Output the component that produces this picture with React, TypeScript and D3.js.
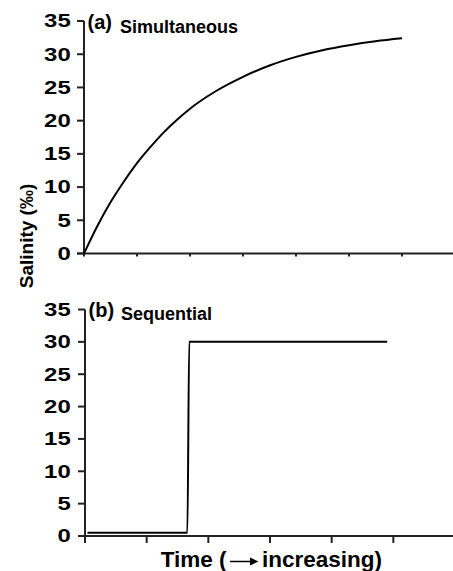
import React from "react";
import * as d3 from "d3";

const yTicks = [0, 5, 10, 15, 20, 25, 30, 35];
const topTicksX = [0, 1, 2, 3, 4, 5, 6];
const bottomTicksX = [0, 1, 2, 3, 4, 5];

// (a) Simultaneous — time (tick units) vs salinity
const simTime = [0, 0.25, 0.5, 0.75, 1, 1.25, 1.5, 1.75, 2, 2.5, 3, 3.5, 4, 4.5, 5, 5.5, 6];
const simSal = [0, 4.1, 7.7, 10.8, 13.6, 16.0, 18.2, 20.1, 21.8, 24.5, 26.6, 28.3, 29.6, 30.6, 31.35, 31.95, 32.4];

// (b) Sequential
const seqTime = [0.04, 1.66, 1.69, 4.9];
const seqSal = [0.5, 0.5, 30, 30];

const FONT = "'Liberation Sans', Arial, Helvetica, sans-serif";
const AXIS = "#222";

function Panel({
  yTop, yBottom, xLeft, xUnit, xDomainMax, xTicks, tickDown, label, title, titleDy, times, vals,
}: any) {
  const y = d3.scaleLinear().domain([0, 35]).range([yBottom, yTop]);
  const x = d3.scaleLinear().domain([0, xDomainMax]).range([xLeft, xLeft + xUnit * xDomainMax]);
  const line = d3
    .line<number>()
    .x((_, i) => x(times[i]))
    .y((d) => y(d))
    .curve(d3.curveMonotoneX);
  return (
    <g>
      <line x1={xLeft} x2={xLeft} y1={y(35)} y2={y(0)} stroke={AXIS} strokeWidth={2} />
      {yTicks.map((t) => (
        <g key={t}>
          <line x1={xLeft - 7} x2={xLeft} y1={y(t)} y2={y(t)} stroke={AXIS} strokeWidth={2} />
          <text
            transform={`translate(70.7,${y(t) + 6.4}) scale(1.33,1)`}
            textAnchor="end"
            fontFamily={FONT}
            fontWeight="bold"
            fontSize={18}
            fill="#000"
          >
            {t}
          </text>
        </g>
      ))}
      <line x1={xLeft - 7} x2={453} y1={y(0)} y2={y(0)} stroke={AXIS} strokeWidth={2} />
      {xTicks.map((t: number) => (
        <line key={t} x1={x(t)} x2={x(t)} y1={y(0)} y2={y(0) + tickDown} stroke={AXIS} strokeWidth={2} />
      ))}
      <path d={line(vals) || ""} fill="none" stroke="#000" strokeWidth={2} />
      <text x={xLeft + 3.5} y={y(35) + 7.5} fontFamily={FONT} fontWeight="bold" fontSize={20}>
        {label}
      </text>
      <text x={xLeft + 36} y={y(35) + titleDy} fontFamily={FONT} fontWeight="bold" fontSize={18}>
        {title}
      </text>
    </g>
  );
}

export default function App() {
  return (
    <svg
      width={453}
      height={571}
      style={{ position: "absolute", left: 0, top: 0, background: "#fff" }}
    >
      <Panel
        yTop={21}
        yBottom={253.5}
        xLeft={84}
        xUnit={53}
        xDomainMax={7}
        xTicks={topTicksX}
        tickDown={3}
        label="(a)"
        title="Simultaneous"
        titleDy={11.5}
        times={simTime}
        vals={simSal}
      />
      <Panel
        yTop={309.5}
        yBottom={536}
        xLeft={85}
        xUnit={61.67}
        xDomainMax={6}
        xTicks={bottomTicksX}
        tickDown={7}
        label="(b)"
        title="Sequential"
        titleDy={10.5}
        times={seqTime}
        vals={seqSal}
      />
      <text
        transform="translate(33,236) rotate(-90)"
        textAnchor="middle"
        fontFamily={FONT}
        fontWeight="bold"
        fontSize={19}
      >
        Salinity (‰)
      </text>
      <text x={226.5} y={567.3} textAnchor="end" fontFamily={FONT} fontWeight="bold" fontSize={22.5}>
        Time (
      </text>
      <line x1={230} x2={252} y1={561.5} y2={561.5} stroke="#000" strokeWidth={1.5} />
      <path d="M250,557.5 L258.5,561.5 L250,565.5 Z" fill="#000" />
      <text x={262} y={567.3} fontFamily={FONT} fontWeight="bold" fontSize={22.5}>
        increasing)
      </text>
    </svg>
  );
}
